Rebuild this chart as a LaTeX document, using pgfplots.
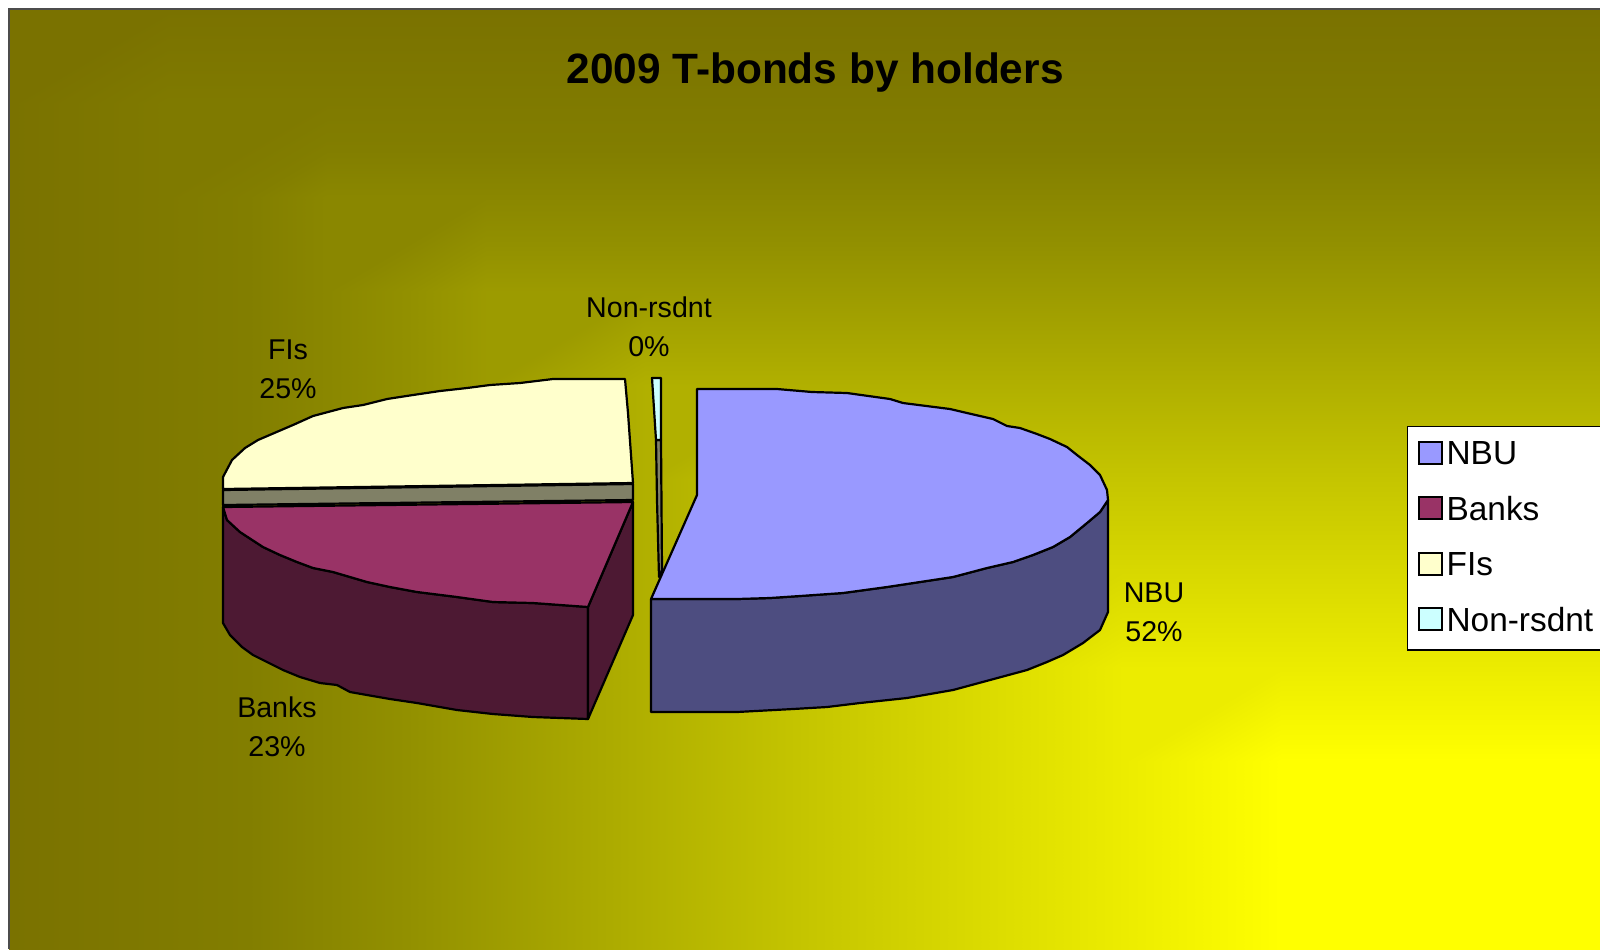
\documentclass[border=0pt]{standalone}
\usepackage{pgfplots}
\pgfplotsset{compat=1.18}
\usepackage{fontspec}
\setmainfont{Liberation Sans}
\definecolor{nbu}{HTML}{9999FF}
\definecolor{nbuside}{HTML}{4D4D80}
\definecolor{banks}{HTML}{993366}
\definecolor{banksside}{HTML}{4D1933}
\definecolor{fis}{HTML}{FFFFCC}
\definecolor{strip}{HTML}{808066}
\definecolor{nonrs}{HTML}{CCFFFF}
\pgfplotsset{
  swatch/.style={legend image code/.code={\draw[#1] (0pt,-5.5pt) rectangle (11.5pt,5.5pt);}},
  face/.style={draw=black,line width=1.1pt,line join=round,forget plot},
}
\tikzset{lab/.style={align=center,font=\fontsize{14.3}{19.5}\selectfont}}
\begin{document}
\begin{tikzpicture}
\path[use as bounding box,clip] (0,0) rectangle (800pt,474.5pt);
\begin{axis}[
  at={(0,0)},anchor=south west,
  scale only axis,width=800pt,height=474.5pt,
  xmin=0,xmax=1600,ymin=0,ymax=949,y dir=reverse,
  axis lines=none,ticks=none,
  colormap={bg}{rgb255(0)=(122,114,0) rgb255(3)=(130,126,0) rgb255(5)=(146,144,0) rgb255(10)=(197,197,0) rgb255(16)=(255,255,0) rgb255(20)=(255,255,0)},
  point meta min=0,point meta max=1,
  legend style={at={(axis cs:1407,426)},anchor=north west,draw=black,fill=white,line width=0.6pt,
    font=\fontsize{16.7}{19}\selectfont,row sep=10.5pt,inner xsep=5pt,inner ysep=5.5pt,
    nodes={yshift=-1pt},legend cell align=left},
]
% background, corner gradient
\addplot[surf,shader=interp,mesh/cols=11,point meta=explicit,forget plot] coordinates {
(9,9)[0](168,9)[0](327,9)[0](486,9)[0](645,9)[0](804,9)[0](963,9)[0](1122,9)[0](1281,9)[0](1440,9)[0](1600,9)[0]
(9,103)[0](168,103)[.1](327,103)[.1](486,103)[.1](645,103)[.1](804,103)[.1](963,103)[.1](1122,103)[.1](1281,103)[.1](1440,103)[.1](1600,103)[.1]
(9,197)[0](168,197)[.1](327,197)[.2](486,197)[.2](645,197)[.2](804,197)[.2](963,197)[.2](1122,197)[.2](1281,197)[.2](1440,197)[.2](1600,197)[.2]
(9,291)[0](168,291)[.1](327,291)[.2](486,291)[.3](645,291)[.3](804,291)[.3](963,291)[.3](1122,291)[.3](1281,291)[.3](1440,291)[.3](1600,291)[.3]
(9,385)[0](168,385)[.1](327,385)[.2](486,385)[.3](645,385)[.4](804,385)[.4](963,385)[.4](1122,385)[.4](1281,385)[.4](1440,385)[.4](1600,385)[.4]
(9,479)[0](168,479)[.1](327,479)[.2](486,479)[.3](645,479)[.4](804,479)[.5](963,479)[.5](1122,479)[.5](1281,479)[.5](1440,479)[.5](1600,479)[.5]
(9,573)[0](168,573)[.1](327,573)[.2](486,573)[.3](645,573)[.4](804,573)[.5](963,573)[.6](1122,573)[.6](1281,573)[.6](1440,573)[.6](1600,573)[.6]
(9,667)[0](168,667)[.1](327,667)[.2](486,667)[.3](645,667)[.4](804,667)[.5](963,667)[.6](1122,667)[.7](1281,667)[.7](1440,667)[.7](1600,667)[.7]
(9,761)[0](168,761)[.1](327,761)[.2](486,761)[.3](645,761)[.4](804,761)[.5](963,761)[.6](1122,761)[.7](1281,761)[.8](1440,761)[.8](1600,761)[.8]
(9,855)[0](168,855)[.1](327,855)[.2](486,855)[.3](645,855)[.4](804,855)[.5](963,855)[.6](1122,855)[.7](1281,855)[.8](1440,855)[.9](1600,855)[.9]
(9,949)[0](168,949)[.1](327,949)[.2](486,949)[.3](645,949)[.4](804,949)[.5](963,949)[.6](1122,949)[.7](1281,949)[.8](1440,949)[.9](1600,949)[1]
};
\addplot[draw=black!70,line width=1pt,forget plot] coordinates {(9,949)(9,9)(1600,9)};
% FIs
\addplot[face,fill=fis] coordinates {(223,489)(223,477)(232,460)(245,448)(258,440)(272,434)(293,425)(313,416)(343,408)(363,405)(387,399)(413,395)(440,391)(467,388)(490,385)(520,383)(553,379)(625,379)(628,413)(633,483)} --cycle;
\addplot[face,fill=strip] coordinates {(223,490)(633,484)(633,500)(223,505)} --cycle;
% Banks
\addplot[face,fill=banksside] coordinates {(223,507)(227,520)(240,532)(263,547)(280,555)(297,562)(313,568)(333,572)(367,582)(390,587)(417,592)(457,597)(493,602)(533,603)(588,607)(588,719)(533,717)(493,714)(457,710)(417,703)(390,699)(367,695)(350,692)(337,685)(320,683)(300,677)(283,670)(267,662)(253,655)(242,647)(230,635)(223,623)} --cycle;
\addplot[face,fill=banksside] coordinates {(588,607)(633,502)(633,615)(588,719)} --cycle;
\addplot[face,fill=banks] coordinates {(223,507)(633,502)(588,607)(533,603)(493,602)(457,597)(417,592)(390,587)(367,582)(333,572)(313,568)(297,562)(280,555)(263,547)(240,532)(227,520)} --cycle;
% Non-rsdnt
\addplot[face,fill=strip] coordinates {(656,440)(661,440)(662,570)(659,577)(657,500)} --cycle;
\addplot[face,fill=nonrs] coordinates {(652,378)(661,378)(661,440)(656,440)} --cycle;
% NBU
\addplot[face,fill=nbuside] coordinates {(651,599)(737,599)(770,598)(800,596)(843,593)(887,587)(920,582)(953,577)(987,568)(1013,562)(1033,555)(1053,547)(1070,537)(1087,523)(1100,512)(1108,500)(1108,612)(1100,630)(1083,643)(1063,655)(1047,662)(1027,670)(990,680)(953,690)(907,698)(860,703)(827,707)(793,709)(737,712)(651,712)} --cycle;
\addplot[face,fill=nbu] coordinates {(697,389)(777,389)(812,392)(847,393)(890,399)(903,403)(950,409)(967,413)(993,419)(1007,426)(1020,428)(1037,434)(1050,439)(1067,447)(1077,455)(1090,465)(1100,475)(1107,490)(1108,500)(1100,512)(1087,523)(1070,537)(1053,547)(1033,555)(1013,562)(987,568)(953,577)(920,582)(887,587)(843,593)(800,596)(770,598)(737,599)(651,599)(697,495)} --cycle;
% legend
\addlegendimage{swatch={draw=black,line width=1pt,fill=nbu}}
\addlegendentry{NBU}
\addlegendimage{swatch={draw=black,line width=1pt,fill=banks}}
\addlegendentry{Banks}
\addlegendimage{swatch={draw=black,line width=1pt,fill=fis}}
\addlegendentry{FIs}
\addlegendimage{swatch={draw=black,line width=1pt,fill=nonrs}}
\addlegendentry{Non-rsdnt}
% texts
\node[font=\fontsize{21.2}{25}\selectfont\bfseries] at (axis cs:815,73) {2009 T-bonds by holders};
\node[lab] at (axis cs:288,369) {FIs\\25\%};
\node[lab] at (axis cs:649,327) {Non-rsdnt\\0\%};
\node[lab] at (axis cs:1154,612) {NBU\\52\%};
\node[lab] at (axis cs:277,727) {Banks\\23\%};
\end{axis}
\end{tikzpicture}
\end{document}
